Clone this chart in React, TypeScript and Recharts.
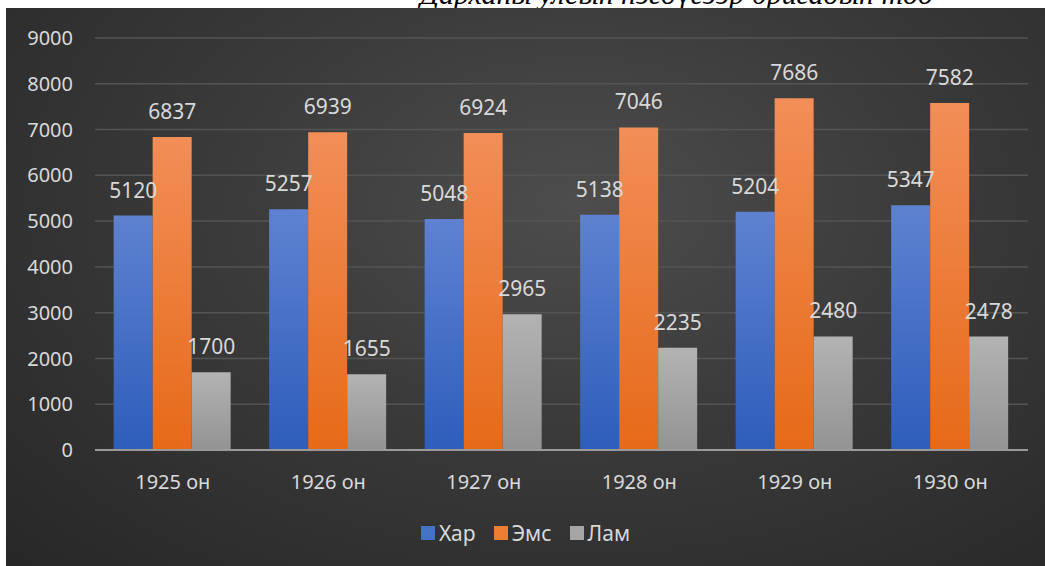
import React from 'react';
import { BarChart, Bar, XAxis, YAxis, CartesianGrid, Legend, LabelList } from 'recharts';

const years = ['1925 он', '1926 он', '1927 он', '1928 он', '1929 он', '1930 он'];
const kharValues = [5120, 5257, 5048, 5138, 5204, 5347];
const emsValues = [6837, 6939, 6924, 7046, 7686, 7582];
const lamValues = [1700, 1655, 2965, 2235, 2480, 2478];
const yTicks = [0, 1000, 2000, 3000, 4000, 5000, 6000, 7000, 8000, 9000];

const seriesNames = ['Хар', 'Эмс', 'Лам'];
const legendColors = ['#4472c4', '#ed7d31', '#a5a5a5'];

const data = years.map((year, i) => ({
  year,
  khar: kharValues[i],
  ems: emsValues[i],
  lam: lamValues[i],
}));

const font = '"Noto Sans", "Open Sans", sans-serif';
const textColor = '#d9d9d9';

// legend in fixed series order (recharts sorts by name otherwise)
const LegendContent = () => (
  <div style={{ display: 'flex', justifyContent: 'center', alignItems: 'center', fontFamily: font, fontSize: 21, color: textColor }}>
    {seriesNames.map((name, i) => (
      <div key={name} style={{ display: 'flex', alignItems: 'center', marginRight: i < 2 ? 18 : 0 }}>
        <span style={{ width: 14, height: 14, background: legendColors[i], display: 'inline-block', marginRight: 4 }} />
        <span>{name}</span>
      </div>
    ))}
  </div>
);

const App: React.FC = () => {
  return (
    <div style={{ position: 'absolute', left: 0, top: 0, width: 1045, height: 566, background: '#fff', overflow: 'hidden' }}>
      <div
        style={{
          position: 'absolute',
          left: 420,
          top: -21,
          fontFamily: '"Liberation Serif", serif',
          fontStyle: 'italic',
          fontSize: 30,
          lineHeight: '30px',
          whiteSpace: 'nowrap',
          color: '#000',
        }}
      >
        Дарханы улсын нэгдүгээр бригадын тоо
      </div>
      <div
        style={{
          position: 'absolute',
          left: 6,
          top: 8,
          width: 1039,
          height: 558,
          background: 'radial-gradient(ellipse at 55% 35%, #4d4d4d 0%, #3a3a3a 45%, #272727 100%)',
        }}
      >
        <BarChart
          width={1039}
          height={558}
          data={data}
          margin={{ top: 30, right: 17, left: 0, bottom: 30 }}
          barGap={0}
          barCategoryGap="12%"
        >
          <defs>
            <linearGradient id="gKhar" x1="0" y1="0" x2="0" y2="1">
              <stop offset="0%" stopColor="#5e82d0" />
              <stop offset="100%" stopColor="#2e5dbb" />
            </linearGradient>
            <linearGradient id="gEms" x1="0" y1="0" x2="0" y2="1">
              <stop offset="0%" stopColor="#f28e58" />
              <stop offset="100%" stopColor="#e66a18" />
            </linearGradient>
            <linearGradient id="gLam" x1="0" y1="0" x2="0" y2="1">
              <stop offset="0%" stopColor="#b3b3b3" />
              <stop offset="100%" stopColor="#939393" />
            </linearGradient>
          </defs>
          <CartesianGrid vertical={false} stroke="#545454" strokeWidth={1.5} />
          <XAxis
            dataKey="year"
            axisLine={{ stroke: '#9a9a9a', strokeWidth: 2 }}
            tickLine={false}
            tickSize={0}
            tickMargin={25}
            height={56}
            tick={{ fill: textColor, fontSize: 20, fontFamily: font }}
          />
          <YAxis
            domain={[0, 9000]}
            ticks={yTicks}
            interval={0}
            axisLine={false}
            tickLine={false}
            tickSize={0}
            tickMargin={22}
            width={89}
            tick={{ fill: textColor, fontSize: 20, fontFamily: font }}
          />
          <Legend
            verticalAlign="bottom"
            align="center"
            content={<LegendContent />}
            wrapperStyle={{ top: 511, left: 0, width: 1039, height: 30 }}
          />
          <Bar dataKey="khar" name="Хар" fill="url(#gKhar)" isAnimationActive={false}>
            <LabelList dataKey="khar" position="top" offset={18} fill={textColor} fontSize={21} fontFamily={font} />
          </Bar>
          <Bar dataKey="ems" name="Эмс" fill="url(#gEms)" isAnimationActive={false}>
            <LabelList dataKey="ems" position="top" offset={18} fill={textColor} fontSize={21} fontFamily={font} />
          </Bar>
          <Bar dataKey="lam" name="Лам" fill="url(#gLam)" isAnimationActive={false}>
            <LabelList dataKey="lam" position="top" offset={18} fill={textColor} fontSize={21} fontFamily={font} />
          </Bar>
        </BarChart>
      </div>
    </div>
  );
};

export default App;
